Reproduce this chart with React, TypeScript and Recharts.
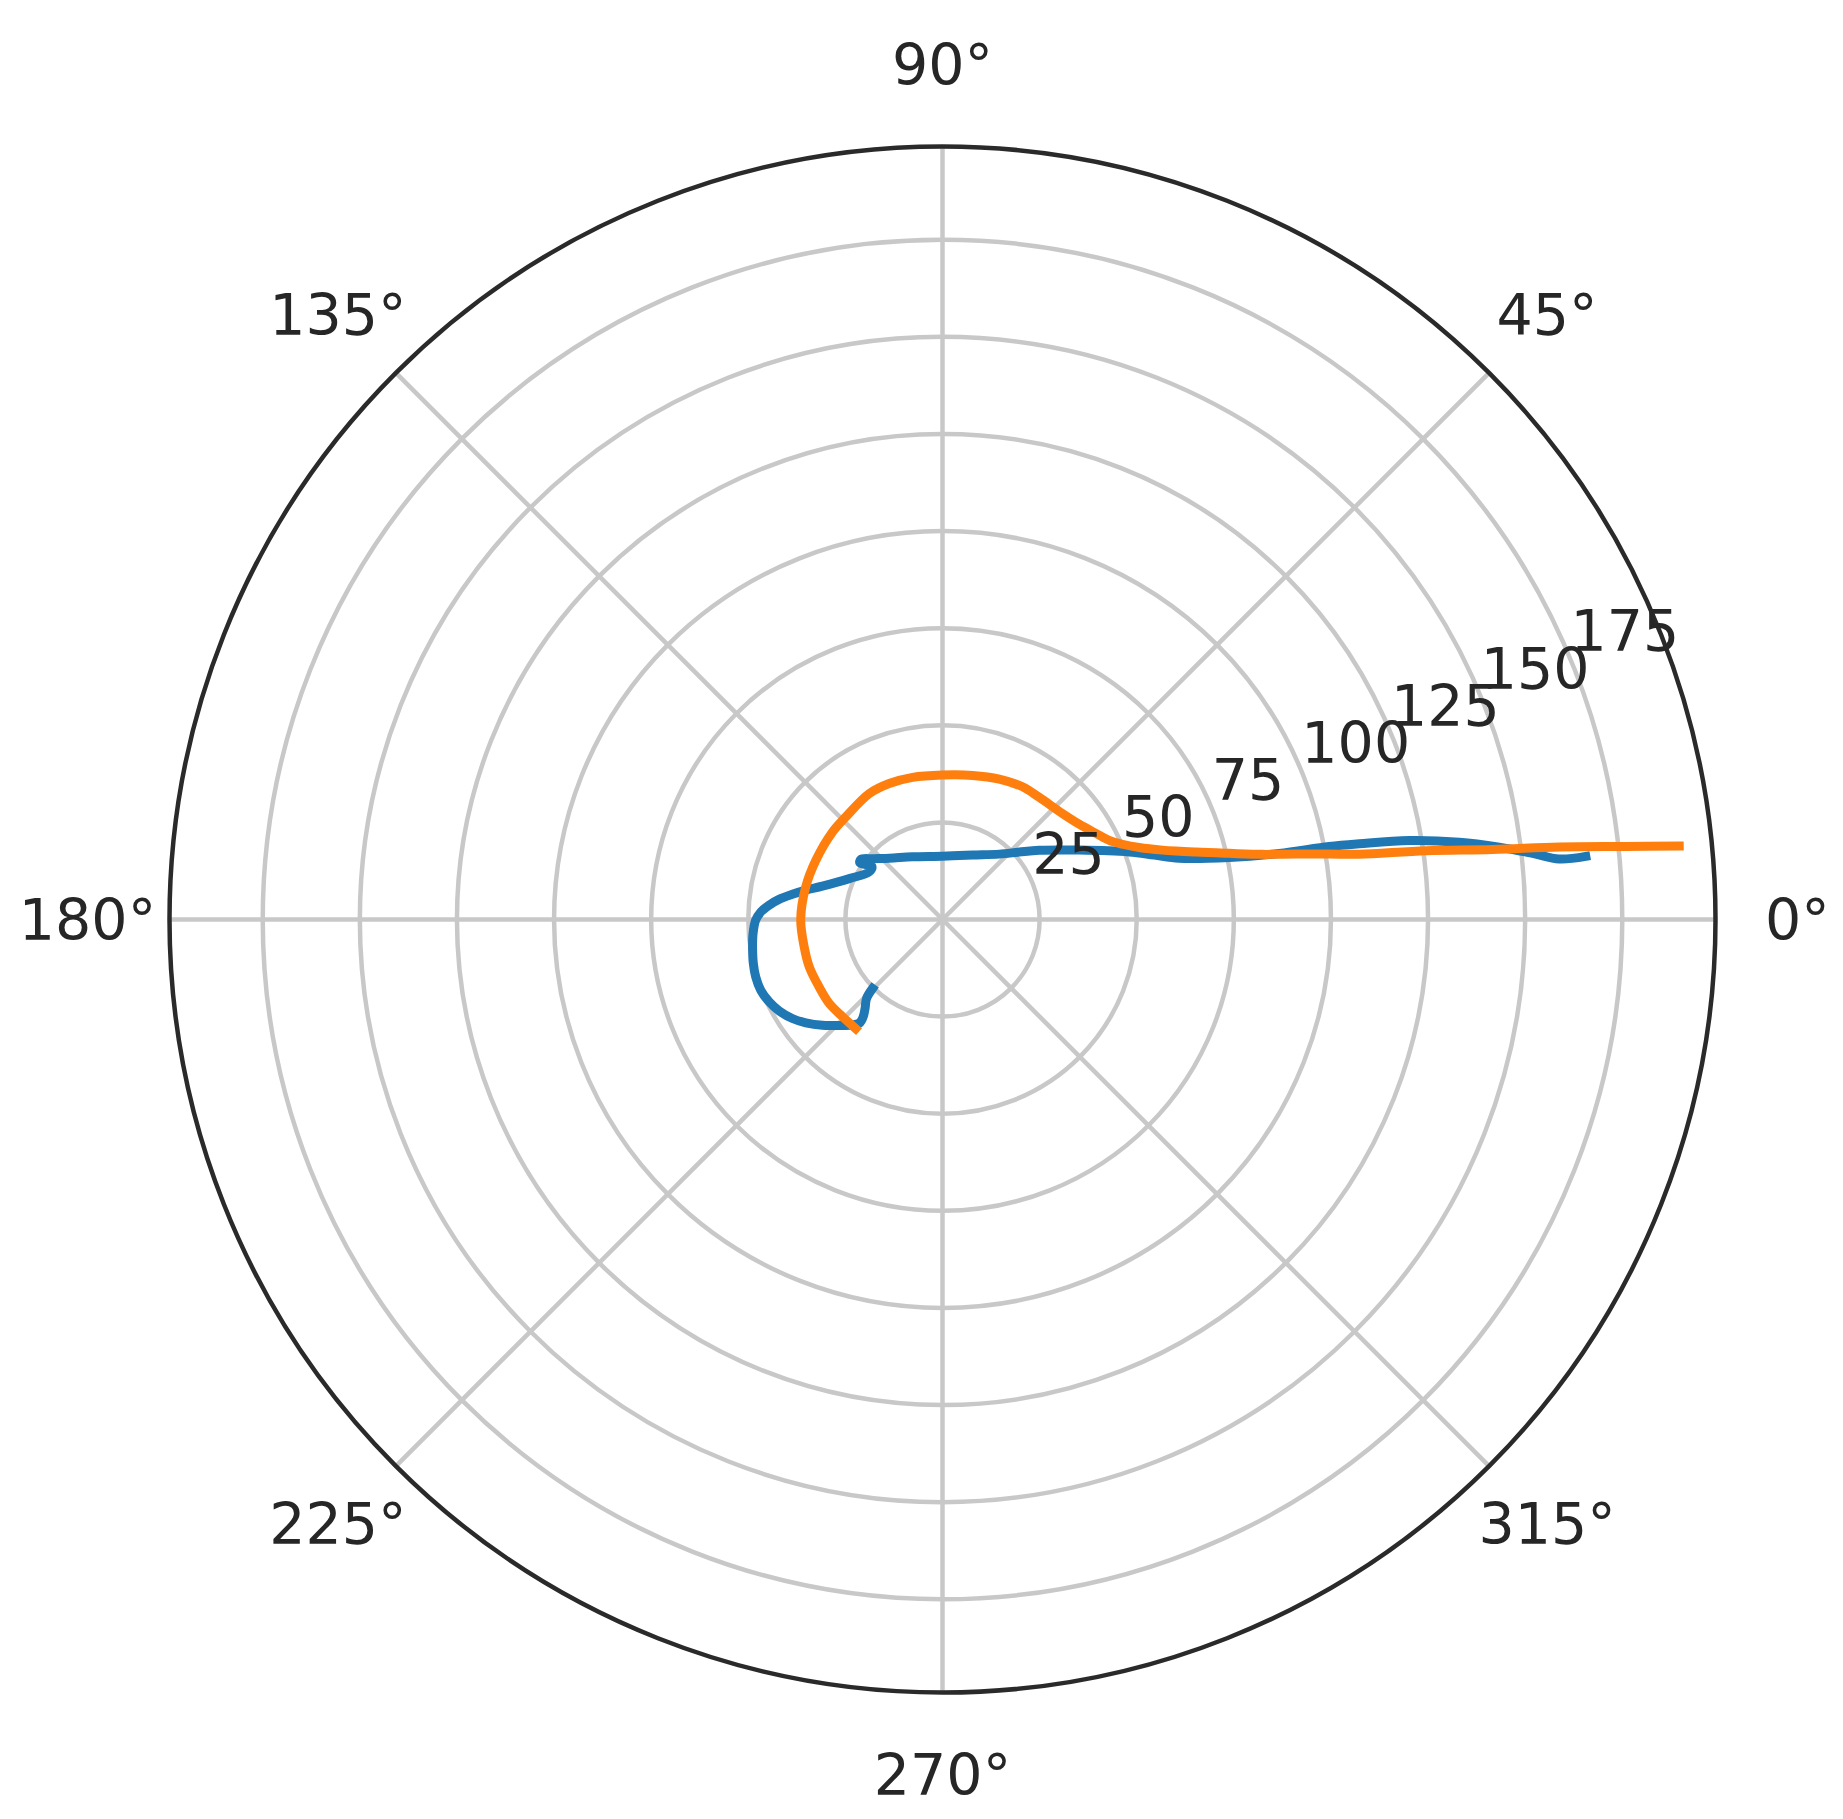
import React from 'react';
import { RadarChart, PolarGrid, PolarAngleAxis, PolarRadiusAxis, Radar } from 'recharts';

// ---- data ----
const ANGLE_TICKS = [0, 45, 90, 135, 180, 225, 270, 315];
const RADIUS_TICKS = [25, 50, 75, 100, 125, 150, 175];
const R_MAX = 199;

// blue series (theta in degrees, r), in drawing order
const blueTheta = [
  5.6, 5.6, 6.4, 7.4, 8.5, 9.6, 10.3, 10.7, 11.1, 12.2, 14.5, 16.9, 19.9, 26.9, 35.6, 41.3, 49.0, 65.0, 90,
  115.6, 131.0, 139.1, 143.6, 145.6, 143.0, 146.9, 156.3, 164.5, 167.9, 170.5, 173.0, 175.3, 177.6, 180.2,
  184.2, 188.2, 193.1, 197.1, 201.3, 205.4, 209.2, 213.4, 217.1, 221.4, 225.7, 229.6, 231.3, 230.8, 229.0,
  226.1, 224.6,
];
const blueR = [
  166.4, 159.5, 152.9, 144.5, 134.5, 121.9, 109.1, 101.3, 88.3, 75.5, 62.9, 57.0, 51.1, 39.5, 30.6, 26.3, 22.3, 18.3, 16.3,
  17.9, 20.9, 23.9, 26.1, 25.8, 22.8, 22.5, 26.2, 32.1, 36.0, 39.2, 42.4, 44.8, 46.8, 48.1,
  48.9, 49.4, 50.0, 50.3, 50.2, 49.4, 48.2, 46.3, 44.1, 41.2, 38.1, 35.7, 34.1, 32.3, 30.4,
  28.2, 25.3,
];

// orange series
const orangeTheta = [
  5.7, 6.1, 6.7, 7.25, 8.1, 8.9, 9.6, 10.5, 11.5, 13.0, 14.9, 17.5, 20.1, 22.7, 25.4, 29.3, 34.9, 41.5,
  51.8, 58.9, 68.0, 78.2, 90, 101.9, 111.4, 120.2, 133.3, 141.4, 154.9, 166.6, 180, 191.2, 199.5, 208.6,
  216.6, 224.2, 231.5,
];
const orangeR = [
  190.6, 177.0, 159.9, 142.7, 125.7, 108.6, 101.0, 92.5, 84.1, 75.7, 67.5, 59.4, 53.9, 50.2, 47.5, 45.3, 42.9, 41.2,
  40.1, 39.9, 39.0, 37.9, 37.2, 37.4, 37.6, 37.5, 36.3, 36.2, 36.0, 36.2, 36.5, 36.3, 36.4, 36.2,
  36.3, 35.9, 35.9,
];

const toRows = (theta: number[], r: number[]) => theta.map((t, i) => ({ theta: t, r: r[i] }));
const blueRows = toRows(blueTheta, blueR);
const orangeRows = toRows(orangeTheta, orangeR);

// ---- styles ----
const W = 1843;
const H = 1819;
const CX = 942.5;
const CY = 919.5;
const OUTER = 773;
const FONT = 'DejaVu Sans, sans-serif';
const FONT_SIZE = 57;
const TEXT = '#262626';
const LINE_W = 9;

const chartCommon = {
  width: W,
  height: H,
  cx: CX,
  cy: CY,
  innerRadius: 0,
  outerRadius: OUTER,
  startAngle: 0,
  endAngle: 360,
  margin: { top: 0, right: 0, bottom: 0, left: 0 },
};

const AngleTick = (props: any) => {
  const { x, y, payload } = props;
  return (
    <text x={x} y={y} textAnchor="middle" dominantBaseline="central" fontFamily={FONT} fontSize={FONT_SIZE} fill={TEXT}>
      {`${payload.value}°`}
    </text>
  );
};

const RadiusTick = (props: any) => {
  const { x, y, payload } = props;
  return (
    <text x={x} y={y - 8} textAnchor="start" fontFamily={FONT} fontSize={FONT_SIZE} fill={TEXT}>
      {payload.value}
    </text>
  );
};

type P = { x: number; y: number };

// smooth open path (centripetal Catmull-Rom) through the points the Radar computed
const smoothPath = (pts: P[]) => {
  if (pts.length < 2) return '';
  const alpha = 0.5;
  const eps = 1e-9;
  let d = `M${pts[0].x},${pts[0].y}`;
  for (let i = 0; i < pts.length - 1; i++) {
    const p0 = pts[i - 1] || pts[i];
    const p1 = pts[i];
    const p2 = pts[i + 1];
    const p3 = pts[i + 2] || pts[i + 1];
    const dist = (a: P, b: P) => Math.hypot(a.x - b.x, a.y - b.y);
    const l01 = dist(p0, p1), l12 = dist(p1, p2), l23 = dist(p2, p3);
    const l01a = Math.pow(l01, alpha), l12a = Math.pow(l12, alpha), l23a = Math.pow(l23, alpha);
    const l01_2a = l01a * l01a, l12_2a = l12a * l12a, l23_2a = l23a * l23a;
    let c1x = p1.x, c1y = p1.y, c2x = p2.x, c2y = p2.y;
    if (l01a > eps) {
      const a = 2 * l01_2a + 3 * l01a * l12a + l12_2a;
      const n = 3 * l01a * (l01a + l12a);
      c1x = (p1.x * a - p0.x * l12_2a + p2.x * l01_2a) / n;
      c1y = (p1.y * a - p0.y * l12_2a + p2.y * l01_2a) / n;
    }
    if (l23a > eps) {
      const b = 2 * l23_2a + 3 * l23a * l12a + l12_2a;
      const m = 3 * l23a * (l23a + l12a);
      c2x = (p2.x * b + p1.x * l23_2a - p3.x * l12_2a) / m;
      c2y = (p2.y * b + p1.y * l23_2a - p3.y * l12_2a) / m;
    }
    d += `C${c1x},${c1y},${c2x},${c2y},${p2.x},${p2.y}`;
  }
  return d;
};

const openLine = (color: string) => (props: any) => {
  const pts: P[] = (props.points || []).filter((p: P) => Number.isFinite(p.x) && Number.isFinite(p.y));
  return (
    <path d={smoothPath(pts)} fill="none" stroke={color} strokeWidth={LINE_W} strokeLinejoin="round" strokeLinecap="square" />
  );
};

const layer: React.CSSProperties = { position: 'absolute', left: 0, top: 0, width: W, height: H };

export default function App() {
  return (
    <div style={{ position: 'absolute', left: 0, top: 0, width: W, height: H, background: '#fff' }}>
      <div style={layer}>
        <RadarChart {...chartCommon} data={blueRows}>
          <PolarGrid gridType="circle" stroke="#c8c8c8" strokeWidth={4.5} />
          <PolarAngleAxis
            dataKey="theta"
            type="number"
            domain={[0, 360]}
            ticks={ANGLE_TICKS}
            tickLine={false}
            tickSize={82}
            axisLineType="circle"
            axisLine={{ stroke: '#2a2a2a', strokeWidth: 4.5 }}
            tick={AngleTick}
          />
          <PolarRadiusAxis type="number" domain={[0, R_MAX]} ticks={RADIUS_TICKS} angle={22.5} axisLine={false} tick={false} />
          <Radar dataKey="r" stroke="#1f77b4" fill="none" shape={openLine('#1f77b4')} dot={false} isAnimationActive={false} />
        </RadarChart>
      </div>
      <div style={layer}>
        <RadarChart {...chartCommon} data={orangeRows}>
          <PolarAngleAxis dataKey="theta" type="number" domain={[0, 360]} ticks={ANGLE_TICKS} tick={false} tickLine={false} axisLine={false} />
          <PolarRadiusAxis type="number" domain={[0, R_MAX]} ticks={RADIUS_TICKS} angle={22.5} axisLine={false} tick={RadiusTick} />
          <Radar dataKey="r" stroke="#ff7f0e" fill="none" shape={openLine('#ff7f0e')} dot={false} isAnimationActive={false} />
        </RadarChart>
      </div>
    </div>
  );
}
